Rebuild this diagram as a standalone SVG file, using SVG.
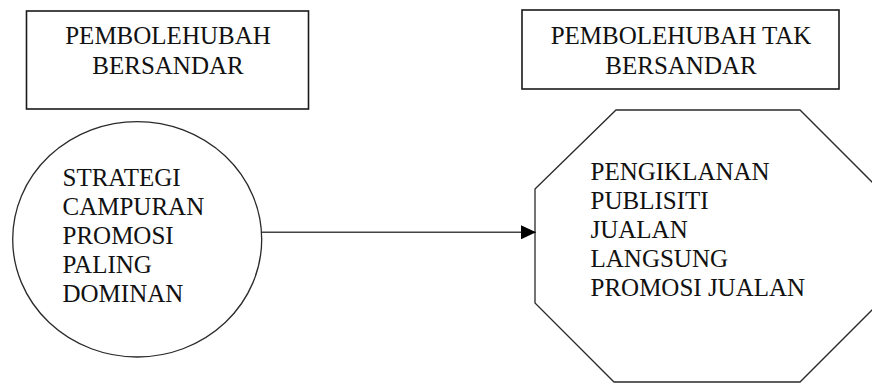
<svg xmlns="http://www.w3.org/2000/svg" width="872" height="383" viewBox="0 0 872 383">
  <defs>
    <style>
      .box { fill: #fff; stroke: #1a1a1a; stroke-width: 1.6; }
      .shape { fill: #fff; stroke: #2a2a2a; stroke-width: 1.3; }
      .t { font-family: 'Liberation Serif', 'Times New Roman', 'DejaVu Serif', serif; font-size: 25px; fill: #111; }
      .c { text-anchor: middle; }
      .conn { stroke: #444; stroke-width: 1.5; fill: none; }
    </style>
    <marker id="arrow" markerUnits="userSpaceOnUse" markerWidth="15" markerHeight="14" refX="15" refY="7" orient="auto">
      <path d="M0,0 L15,7 L0,14 Z" fill="#000"/>
    </marker>
  </defs>
  <rect width="872" height="383" fill="#fff"/>

  <g id="dependent-variable" font-family="Liberation Serif, serif">
    <rect class="box" x="26.5" y="11" width="282" height="98"/>
    <text class="t c" x="168" y="44">PEMBOLEHUBAH</text>
    <text class="t c" x="168" y="73.5">BERSANDAR</text>
  </g>

  <g id="independent-variable" font-family="Liberation Serif, serif">
    <rect class="box" x="522" y="10" width="317" height="79"/>
    <text class="t c" x="681" y="43.5">PEMBOLEHUBAH TAK</text>
    <text class="t c" x="681" y="74">BERSANDAR</text>
  </g>

  <g id="strategy-circle" font-family="Liberation Serif, serif">
    <ellipse class="shape" cx="137.2" cy="239.3" rx="124.5" ry="117.7"/>
    <text class="t" x="62.5" y="186">STRATEGI</text>
    <text class="t" x="62.5" y="215">CAMPURAN</text>
    <text class="t" x="62.5" y="244">PROMOSI</text>
    <text class="t" x="62.5" y="273">PALING</text>
    <text class="t" x="62.5" y="302">DOMINAN</text>
  </g>

  <g id="promotion-octagon" font-family="Liberation Serif, serif">
    <polygon class="shape" points="535,189 616,110 800,110 879,189 879,303 800,382 614,382 535,303"/>
    <text class="t" x="590.5" y="180">PENGIKLANAN</text>
    <text class="t" x="590.5" y="209">PUBLISITI</text>
    <text class="t" x="590.5" y="238">JUALAN</text>
    <text class="t" x="590.5" y="267">LANGSUNG</text>
    <text class="t" x="590.5" y="295.5">PROMOSI JUALAN</text>
  </g>

  <g id="connectors">
    <line class="conn" x1="262" y1="232.3" x2="536" y2="232.3" marker-end="url(#arrow)"/>
  </g>
</svg>
